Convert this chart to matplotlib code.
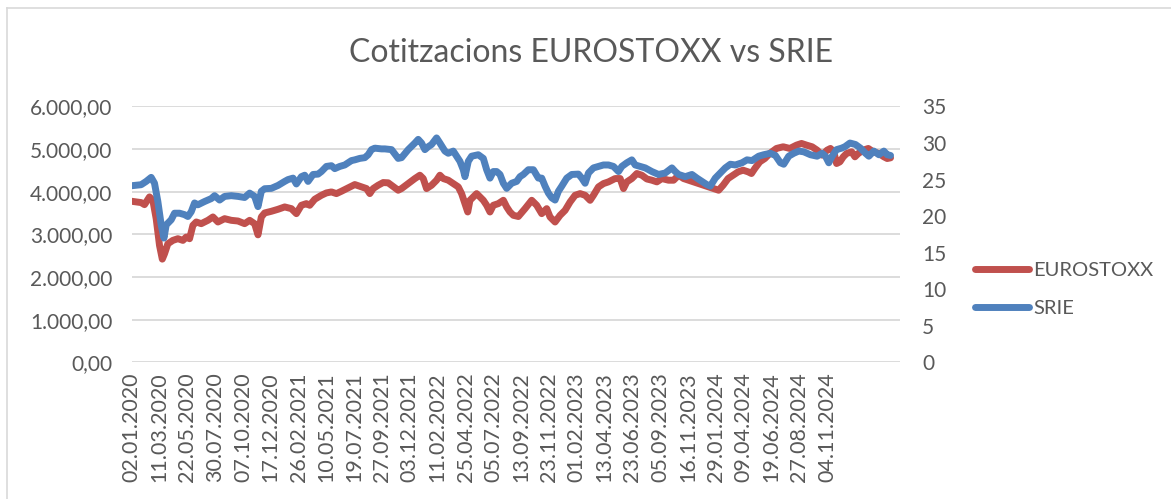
import matplotlib
matplotlib.use("Agg")
import matplotlib.pyplot as plt
from matplotlib.ticker import FuncFormatter, FixedLocator, MultipleLocator
from matplotlib.lines import Line2D

# ---------------- data (trading-day index, value) ----------------
eurostoxx_idx = [0, 17, 23, 32, 38, 44, 50, 55, 59, 65, 74, 83, 92, 98, 104, 110, 116, 125, 137, 146,
                 155, 167, 179, 191, 203, 212, 221, 227, 233, 239, 251, 263, 275, 287, 296, 305, 314, 320,
                 329, 341, 350, 359, 368, 377, 389, 401, 413, 422, 428, 434, 443, 452, 461, 467, 479, 485,
                 497, 509, 518, 524, 530, 539, 548, 554, 560, 569, 578, 587, 593, 599, 604, 608, 614, 620,
                 626, 632, 638, 644, 650, 659, 668, 674, 680, 686, 695, 707, 719, 728, 737, 746, 752, 761,
                 770, 779, 788, 797, 806, 815, 824, 830, 839, 848, 857, 869, 878, 884, 890, 899, 908, 917,
                 926, 935, 944, 953, 965, 974, 983, 992, 1001, 1010, 1019, 1028, 1037, 1046, 1055, 1063,
                 1072, 1081, 1090, 1099, 1108, 1114, 1120, 1129, 1138, 1147, 1159, 1171, 1183, 1195, 1204,
                 1213, 1223, 1232, 1241, 1250, 1256, 1262, 1267, 1273, 1279, 1285, 1294, 1300, 1306, 1315,
                 1324, 1333, 1343, 1352, 1358, 1364]
eurostoxx_val = [3777, 3746, 3698, 3879, 3800, 3369, 2742, 2420, 2546, 2781, 2860, 2899, 2860, 2938, 2899,
                 3212, 3291, 3252, 3330, 3409, 3291, 3369, 3330, 3314, 3252, 3330, 3250, 2990, 3409, 3503,
                 3542, 3589, 3644, 3604, 3487, 3683, 3722, 3683, 3824, 3918, 3973, 3996, 3957, 4012, 4091,
                 4169, 4114, 4075, 3957, 4075, 4153, 4216, 4210, 4153, 4036, 4075, 4192, 4310, 4388, 4310,
                 4075, 4153, 4271, 4388, 4310, 4271, 4192, 4114, 3957, 3722, 3526, 3800, 3879, 3957, 3879,
                 3800, 3683, 3526, 3683, 3722, 3800, 3644, 3526, 3448, 3420, 3604, 3800, 3683, 3487, 3604,
                 3408, 3291, 3448, 3565, 3761, 3918, 3957, 3918, 3800, 3918, 4114, 4192, 4232, 4310, 4310,
                 4075, 4232, 4310, 4428, 4388, 4300, 4271, 4232, 4310, 4271, 4271, 4388, 4310, 4271, 4232,
                 4192, 4153, 4114, 4075, 4036, 4153, 4310, 4388, 4467, 4506, 4467, 4428, 4545, 4702, 4780,
                 4900, 5016, 5055, 5016, 5094, 5133, 5094, 5055, 4976, 4859, 4976, 5016, 4937, 4663, 4702,
                 4820, 4898, 4937, 4820, 4898, 4976, 5016, 4937, 4898, 4820, 4780, 4796]

srie_idx = [0, 17, 26, 35, 41, 47, 53, 58, 62, 71, 77, 86, 95, 101, 107, 113, 119, 131, 143, 149, 158, 167,
            179, 191, 203, 212, 221, 227, 233, 239, 251, 263, 275, 281, 290, 296, 305, 311, 317, 326, 335,
            341, 350, 359, 365, 374, 383, 395, 401, 410, 419, 425, 431, 437, 449, 455, 467, 479, 485, 497,
            509, 515, 521, 527, 533, 539, 548, 554, 563, 569, 578, 584, 590, 596, 599, 605, 611, 623, 632,
            638, 644, 650, 656, 662, 668, 674, 683, 692, 698, 704, 713, 722, 731, 737, 743, 749, 755, 761,
            767, 773, 782, 791, 803, 809, 815, 821, 830, 839, 848, 857, 866, 875, 881, 890, 899, 905, 914,
            923, 935, 947, 959, 971, 977, 983, 995, 1007, 1016, 1025, 1034, 1040, 1049, 1058, 1067, 1076,
            1085, 1097, 1106, 1115, 1127, 1136, 1148, 1157, 1166, 1172, 1181, 1190, 1199, 1208, 1220, 1232,
            1241, 1247, 1253, 1259, 1267, 1276, 1282, 1291, 1301, 1310, 1319, 1325, 1334, 1343, 1352, 1358,
            1364]
srie_val = [24.16, 24.3, 24.75, 25.3, 24.5, 22.0, 18.8, 17.0, 18.8, 19.5, 20.4, 20.4, 20.2, 19.95, 20.6,
            21.8, 21.55, 22.0, 22.4, 22.8, 22.2, 22.7, 22.8, 22.7, 22.55, 23.15, 22.7, 21.3, 23.4, 23.75,
            23.8, 24.2, 24.75, 25.0, 25.2, 24.4, 25.4, 25.6, 24.75, 25.7, 25.75, 26.1, 26.8, 26.9, 26.5,
            26.8, 27.0, 27.6, 27.7, 27.9, 28.0, 28.4, 29.1, 29.3, 29.2, 29.2, 29.1, 27.9, 28.0, 29.1, 30.0,
            30.5, 30.0, 29.1, 29.5, 29.8, 30.7, 30.0, 28.9, 28.6, 28.9, 28.2, 27.5, 26.35, 25.4, 27.5, 28.2,
            28.4, 27.9, 26.35, 25.2, 26.1, 26.1, 25.7, 24.5, 23.8, 24.5, 24.75, 25.4, 25.7, 26.35, 26.35,
            25.2, 25.2, 24.1, 23.15, 22.5, 22.2, 23.4, 24.1, 25.2, 25.7, 25.75, 25.2, 24.5, 25.9, 26.6, 26.8,
            27.0, 27.0, 26.8, 26.1, 26.8, 27.3, 27.7, 27.0, 26.8, 26.6, 26.1, 25.7, 25.9, 26.6, 26.1, 25.7,
            25.4, 25.7, 25.2, 24.75, 24.3, 24.1, 25.2, 25.9, 26.6, 27.1, 27.0, 27.3, 27.7, 27.6, 28.2, 28.4,
            28.6, 28.3, 27.3, 27.1, 28.2, 28.6, 28.9, 28.8, 28.4, 28.2, 28.6, 28.2, 27.3, 28.2, 29.1, 29.3,
            29.5, 30.0, 29.8, 29.3, 28.6, 28.2, 28.9, 28.4, 28.9, 28.4, 28.3]

date_labels = ["02.01.2020", "11.03.2020", "22.05.2020", "30.07.2020", "07.10.2020", "17.12.2020",
               "26.02.2021", "10.05.2021", "19.07.2021", "27.09.2021", "03.12.2021", "11.02.2022",
               "25.04.2022", "05.07.2022", "13.09.2022", "23.11.2022", "01.02.2023", "13.04.2023",
               "23.06.2023", "05.09.2023", "16.11.2023", "29.01.2024", "09.04.2024", "19.06.2024",
               "27.08.2024", "04.11.2024"]
label_step = 50
n_categories = 1381

title = "Cotitzacions EUROSTOXX vs SRIE"
series_names = ["EUROSTOXX", "SRIE"]

# ---------------- style ----------------
RED = "#C0504D"
BLUE = "#4F81BD"
TXT = "#595959"
GRID = "#D9D9D9"
FONT = ["Lato", "DejaVu Sans"]
plt.rcParams["font.family"] = FONT

W, H = 1171, 499
fig = plt.figure(figsize=(W / 100, H / 100), dpi=100)
fig.patch.set_facecolor("white")

left, right, top, bottom = 131.7, 900.0, 106.5, 362.3
ax = fig.add_axes([left / W, 1 - bottom / H, (right - left) / W, (bottom - top) / H])
ax2 = ax.twinx()

LW = 5.0
l1, = ax.plot(eurostoxx_idx, eurostoxx_val, color=RED, lw=LW, solid_capstyle="round",
              solid_joinstyle="round", label=series_names[0], zorder=3)
l2, = ax2.plot(srie_idx, srie_val, color=BLUE, lw=LW, solid_capstyle="round",
               solid_joinstyle="round", label=series_names[1], zorder=3)

ax.set_xlim(0, n_categories)
ax.set_ylim(0, 6000)
ax2.set_ylim(0, 35)
ax.yaxis.set_major_locator(MultipleLocator(1000))
ax2.yaxis.set_major_locator(MultipleLocator(5))


def fmt_eu(v, pos):
    s = f"{v:,.2f}"
    return s.replace(",", "X").replace(".", ",").replace("X", ".")


ax.yaxis.set_major_formatter(FuncFormatter(fmt_eu))
ax.xaxis.set_major_locator(FixedLocator([i * label_step for i in range(len(date_labels))]))
ax.set_xticklabels(date_labels, rotation=90, ha="center", va="top")

ax.grid(axis="y", color=GRID, lw=1.3, zorder=0)
ax.set_axisbelow(True)
for a in (ax, ax2):
    for s in a.spines.values():
        s.set_visible(False)

ax.tick_params(axis="y", length=0, pad=14, labelsize=15, labelcolor=TXT)
ax.tick_params(axis="x", length=0, pad=7, labelsize=15.5, labelcolor=TXT)
ax2.tick_params(axis="y", length=0, pad=16, labelsize=15, labelcolor=TXT)

fig.text(0.505, 1 - 53 / H, title, ha="center", va="center", fontsize=23, color=TXT)

leg = fig.legend(handles=[l1, l2], labels=series_names, loc="center left",
                 bbox_to_anchor=(975 / W, 1 - 289.5 / H), frameon=False, fontsize=14.5,
                 handlelength=2.7, handletextpad=0.2, labelspacing=1.05, borderpad=0,
                 borderaxespad=0)
for t in leg.get_texts():
    t.set_color(TXT)

# chart-area border (left and top edges visible in the crop)
fig.add_artist(Line2D([6.5 / W, 6.5 / W], [0, 1 - 8 / H], color=GRID, lw=1.2, transform=fig.transFigure))
fig.add_artist(Line2D([6.5 / W, 1], [1 - 8 / H, 1 - 8 / H], color=GRID, lw=1.2, transform=fig.transFigure))

fig.savefig("out.png", dpi=100)
